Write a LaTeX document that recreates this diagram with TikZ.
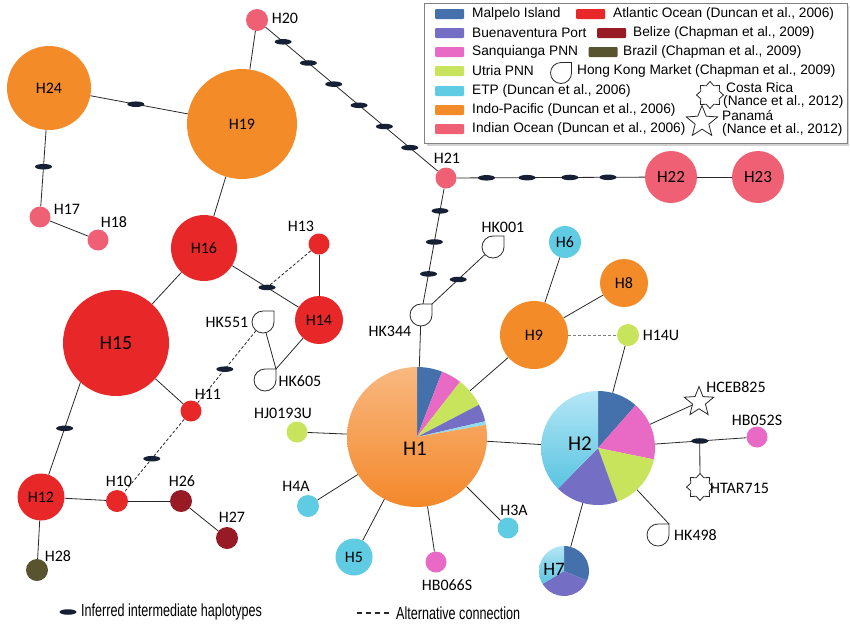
\documentclass[tikz,border=0pt]{standalone}
\usepackage{fontspec}
\usepackage{graphicx}
\setmainfont{Carlito}
\newfontfamily\legfont{Liberation Sans}
\usetikzlibrary{shapes.geometric,calc}
\definecolor{malpelo}{RGB}{68,112,172}
\definecolor{buena}{RGB}{116,110,196}
\definecolor{sanq}{RGB}{232,106,196}
\definecolor{utria}{RGB}{200,228,92}
\definecolor{etp}{RGB}{96,204,228}
\definecolor{etpL}{RGB}{180,230,246}
\definecolor{etpD}{RGB}{90,196,224}
\definecolor{indo}{RGB}{243,140,40}
\definecolor{indoL}{RGB}{248,184,128}
\definecolor{indoD}{RGB}{244,136,42}
\definecolor{indian}{RGB}{240,96,116}
\definecolor{atl}{RGB}{232,40,40}
\definecolor{belize}{RGB}{152,26,36}
\definecolor{brazil}{RGB}{88,84,48}
\definecolor{markc}{RGB}{22,32,52}
\definecolor{linec}{RGB}{40,40,40}
\definecolor{legbd}{RGB}{130,130,130}
\newcommand\hlab{\fontsize{16}{18}\selectfont}
\newcommand\hbig{\fontsize{21}{24}\selectfont}
\newcommand\lgf{\legfont\fontsize{13.7}{15}\selectfont}
\newcommand\pieslice[5]{\fill[#5] (#1.center) -- ++({-(#3)}:#2) arc[start angle={-(#3)}, end angle={-(#4)}, radius=#2] -- cycle;}
\newcommand\pieshade[6]{\shade[top color=#5, bottom color=#6] (#1.center) -- ++({-(#3)}:#2) arc[start angle={-(#3)}, end angle={-(#4)}, radius=#2] -- cycle;}
\newcommand\hkdrop[2]{\draw[hkline] ($(#1)+(#2,0)$) arc[start angle=0, end angle=270, radius=#2] -- ($(#1)+(#2,-#2)$) -- cycle;}
\begin{document}
\begin{tikzpicture}[x=1pt,y=-1pt,
  hap/.style={circle,inner sep=0pt,minimum size=#1},
  hk/.style={circle,inner sep=0pt,minimum size=22pt},
  hkline/.style={draw=linec,fill=white,line width=0.8pt},
  lbl/.style={font=\hlab,inner sep=0pt},
  edge/.style={draw=linec,line width=0.8pt},
  alt/.style={draw=linec,line width=0.8pt,dash pattern=on 3pt off 2pt},
  alt2/.style={draw=gray,line width=0.9pt,dash pattern=on 3pt off 2pt},
  imark/.style={ellipse,fill=markc,minimum width=17pt,minimum height=5.5pt,inner sep=0pt},
  sw/.style={minimum width=29pt,minimum height=10pt,inner sep=0pt,rounded corners=1pt},
  lt/.style={anchor=west,font=\lgf,inner sep=0pt}]
\useasboundingbox (0,0) rectangle (850,638);
% ---------- haplotype nodes ----------
\node[hap=22pt,fill=indian] (H20) at (257,20) {};
\node[hap=84pt,fill=indo,font=\hlab] (H24) at (49,88) {H24};
\node[hap=110pt,fill=indo,font=\hlab] (H19) at (242,124) {H19};
\node[hap=21pt,fill=indian] (H17) at (40,217) {};
\node[hap=21pt,fill=indian] (H18) at (98,240) {};
\node[hap=66pt,fill=atl,font=\hlab] (H16) at (204,248) {H16};
\node[hap=21pt,fill=atl] (H13) at (319,244) {};
\node[hap=48pt,fill=atl,font=\hlab] (H14) at (319,320) {H14};
\node[hap=106pt,fill=atl,font=\fontsize{20}{22}\selectfont] (H15) at (116,343) {H15};
\node[hap=21pt,fill=atl] (H11) at (191,411) {};
\node[hap=47pt,fill=atl,font=\hlab] (H12) at (41,497) {H12};
\node[hap=22pt,fill=atl] (H10) at (117,501) {};
\node[hap=22pt,fill=belize] (H26) at (181,501) {};
\node[hap=22pt,fill=belize] (H27) at (227,538) {};
\node[hap=22pt,fill=brazil] (H28) at (37,570) {};
\node[hap=21pt,fill=indian] (H21) at (446,178) {};
\node[hap=52pt,fill=indian,font=\fontsize{17}{19}\selectfont] (H22) at (671,177) {H22};
\node[hap=52pt,fill=indian,font=\fontsize{17}{19}\selectfont] (H23) at (758,177) {H23};
\node[hap=32pt,fill=etp,font=\hlab] (H6) at (565,242) {H6};
\node[hap=48pt,fill=indo,font=\hlab] (H8) at (624,283) {H8};
\node[hap=68pt,fill=indo,font=\hlab] (H9) at (534,335) {H9};
\node[hap=22pt,fill=utria] (H14U) at (628,335) {};
\node[hap=21pt,fill=utria] (HJ0193U) at (297,432) {};
\node[hap=22pt,fill=etp] (H4A) at (308,506) {};
\node[hap=37pt,fill=etp,font=\hlab] (H5) at (354,557) {H5};
\node[hap=21pt,fill=sanq] (HB066S) at (436,562) {};
\node[hap=21pt,fill=etp] (H3A) at (508,528) {};
\node[hap=21pt,fill=sanq] (HB052S) at (757,437) {};
\node[hap=140pt] (H1) at (417,437) {};
\node[hap=114pt] (H2) at (598,448) {};
\node[hap=50pt] (H7) at (564,571) {};
\node[hk] (HK551) at (263,322) {};
\node[hk] (HK605) at (265,380) {};
\node[hk] (HK001) at (493,247) {};
\node[hk] (HK344) at (421,315) {};
\node[hk] (HK498) at (658,535) {};
\node[star,star points=5,star point ratio=2.3,minimum size=31pt,inner sep=0pt,draw=linec,fill=white,line width=0.8pt] (HCEB825) at (699,402) {};
\node[star,star points=8,star point ratio=1.35,minimum size=27pt,inner sep=0pt,draw=linec,fill=white,line width=0.8pt] (HTAR715) at (700,487) {};
% ---------- pies ----------
\pieslice{H1}{70}{69}{90}{malpelo}
\pieslice{H1}{70}{52}{69}{sanq}
\pieslice{H1}{70}{27.5}{52}{utria}
\pieslice{H1}{70}{13}{27.5}{buena}
\pieslice{H1}{70}{10}{13}{etp!70!white}
\pieshade{H1}{70}{90}{370}{indoL}{indoD}
\pieslice{H2}{57}{48.6}{90}{malpelo}
\pieslice{H2}{57}{-11.5}{48.6}{sanq}
\pieslice{H2}{57}{-70}{-11.5}{utria}
\pieslice{H2}{57}{-134.5}{-70}{buena}
\pieshade{H2}{57}{90}{225.5}{etpL}{etpD}
\pieslice{H7}{25}{-22.7}{90}{malpelo}
\pieslice{H7}{25}{211}{337.3}{buena}
\pieshade{H7}{25}{90}{211}{etpL}{etpD}
\node[font=\hbig,inner sep=0pt] (lH1) at (415,449) {H1};
\node[font=\hbig,inner sep=0pt] (lH2) at (580,444) {H2};
\node[font=\fontsize{19}{21}\selectfont,inner sep=0pt] (lH7) at (554,569) {H7};
% ---------- mark positions ----------
\coordinate (H15b) at (H15.228);
\coordinate (a1) at ($(H24)!0.45!(H19)$);
\coordinate (a2) at ($(H24)!0.61!(H17)$);
\coordinate (b1) at ($(H20)!0.138!(H21)$);
\coordinate (b2) at ($(H20)!0.272!(H21)$);
\coordinate (b3) at ($(H20)!0.406!(H21)$);
\coordinate (b4) at ($(H20)!0.54!(H21)$);
\coordinate (b5) at ($(H20)!0.674!(H21)$);
\coordinate (b6) at ($(H20)!0.808!(H21)$);
\coordinate (c1) at ($(H21)!0.18!(H22)$);
\coordinate (c2) at ($(H21)!0.36!(H22)$);
\coordinate (c3) at ($(H21)!0.55!(H22)$);
\coordinate (c4) at ($(H21)!0.72!(H22)$);
\coordinate (d1) at ($(H21)!0.24!(HK344)$);
\coordinate (d2) at ($(H21)!0.467!(HK344)$);
\coordinate (d3) at ($(H21)!0.70!(HK344)$);
\coordinate (HK344c) at ($(HK344)+(11,-11)$);
\coordinate (HK605c) at ($(HK605)+(11,-11)$);
\coordinate (HK498c) at ($(HK498)+(11,-11)$);
\coordinate (e1) at ($(HK344c)!0.43!(HK001)$);
\coordinate (f1) at ($(H16)!0.548!(H14)$);
\coordinate (g1) at ($(HK551)!0.53!(H11)$);
\coordinate (g2) at ($(H11)!0.53!(H10)$);
\coordinate (h1) at ($(H15b)!0.40!(H12)$);
\coordinate (k1) at ($(H2)!0.64!(HB052S)$);
% ---------- connectors ----------
\draw[edge] (H20) -- (H19);
\draw[edge] (H20) -- (H21);
\draw[edge] (H24) -- (H19);
\draw[edge] (H24) -- (H17);
\draw[edge] (H17) -- (H18);
\draw[edge] (H19) -- (H16);
\draw[edge] (H16) -- (H15);
\draw[edge] (H15) -- (H11);
\draw[edge] (H16) -- (H14);
\draw[edge] (H13) -- (H14);
\draw[edge] (H14) -- (HK605c);
\draw[edge] (HK551) -- (HK605c);
\draw[edge] (H15b) -- (H12);
\draw[edge] (H12) -- (H10);
\draw[edge] (H10) -- (H26);
\draw[edge] (H26) -- (H27);
\draw[edge] (H12) -- (H28);
\draw[edge] (H21) -- (H22);
\draw[edge] (H22) -- (H23);
\draw[edge] (H21) -- (HK344);
\draw[edge] (HK344c) -- (HK001);
\draw[edge] (HK344) -- (H1);
\draw[edge] (H1) -- (HJ0193U);
\draw[edge] (H1) -- (H4A);
\draw[edge] (H1) -- (H5);
\draw[edge] (H1) -- (HB066S);
\draw[edge] (H1) -- (H3A);
\draw[edge] (H1) -- (H9);
\draw[edge] (H1) -- (H2);
\draw[edge] (H9) -- (H6);
\draw[edge] (H9) -- (H8);
\draw[edge] (H14U) -- (H2);
\draw[edge] (H2) -- (HCEB825);
\draw[edge] (H2) -- (HB052S);
\draw[edge] (k1) -- (HTAR715);
\draw[edge] (H2) -- (HK498c);
\draw[edge] (H2) -- (H7);
\draw[alt] (H13) -- (f1);
\draw[alt] (HK551) -- (H11);
\draw[alt] (H11) -- (H10);
\draw[alt2] (H9) -- (H14U);
% ---------- Hong Kong drops ----------
\hkdrop{HK551}{11}
\hkdrop{HK605}{11}
\hkdrop{HK001}{11}
\hkdrop{HK344}{11}
\hkdrop{HK498}{11}
% ---------- inferred intermediates ----------
\foreach \m in {a1,a2,b1,b2,b3,b4,b5,b6,c1,c2,c3,c4,d1,d2,d3,e1,f1,g1,g2,h1,k1}
  \node[imark] (n\m) at (\m) {};
% ---------- labels ----------
\node[lbl] (tH20) at (285,18) {H20};
\node[lbl] (tH17) at (67,209) {H17};
\node[lbl] (tH18) at (114,222) {H18};
\node[lbl] (tH13) at (301,226) {H13};
\node[lbl] (tHK551) at (227,322) {HK551};
\node[lbl] (tHK605) at (300,381) {HK605};
\node[lbl] (tH11) at (208,394) {H11};
\node[lbl] (tH10) at (119,481) {H10};
\node[lbl] (tH26) at (182,481) {H26};
\node[lbl] (tH27) at (232,517) {H27};
\node[lbl] (tH28) at (58,556) {H28};
\node[lbl] (tH21) at (447,158) {H21};
\node[lbl] (tHK001) at (503,227) {HK001};
\node[lbl] (tHK344) at (390,331) {HK344};
\node[lbl] (tH14U) at (661,335) {H14U};
\node[lbl] (tHJ) at (283,413) {HJ0193U};
\node[lbl] (tH4A) at (296,486) {H4A};
\node[lbl] (tH3A) at (514,510) {H3A};
\node[lbl] (tHB066S) at (447,585) {HB066S};
\node[lbl] (tHCEB) at (736,387) {HCEB825};
\node[lbl] (tHB052S) at (757,420) {HB052S};
\node[lbl,anchor=west] (tHTAR) at (710,488) {HTAR715};
\node[lbl,anchor=west] (tHK498) at (674,535) {HK498};
% ---------- legend ----------
\fill[black!18] (427,6) rectangle (849,146);
\draw[draw=legbd,fill=white,line width=1pt] (424,3) rectangle (847,143);
\node[sw,fill=malpelo] (s1) at (449.5,14) {};
\node[sw,fill=buena] (s2) at (449.5,33) {};
\node[sw,fill=sanq] (s3) at (449.5,52) {};
\node[sw,fill=utria] (s4) at (449.5,71) {};
\node[sw,fill=etp] (s5) at (449.5,91) {};
\node[sw,fill=indo] (s6) at (449.5,110) {};
\node[sw,fill=indian] (s7) at (449.5,129) {};
\node[lt] (t1) at (472,14) {Malpelo Island};
\node[lt] (t2) at (472,33) {Buenaventura Port};
\node[lt] (t3) at (472,52) {Sanquianga PNN};
\node[lt] (t4) at (472,71) {Utria PNN};
\node[lt] (t5) at (472,91) {ETP (Duncan et al., 2006)};
\node[lt] (t6) at (472,110) {Indo-Pacific (Duncan et al., 2006)};
\node[lt] (t7) at (472,129) {Indian Ocean (Duncan et al., 2006)};
\node[sw,fill=atl] (s8) at (590.5,14) {};
\node[sw,fill=belize] (s9) at (611.5,33) {};
\node[sw,fill=brazil] (s10) at (603,52) {};
\node[lt] (t8) at (613,14) {Atlantic Ocean (Duncan et al., 2006)};
\node[lt] (t9) at (633,33) {Belize (Chapman et al., 2009)};
\node[lt] (t10) at (623,52) {Brazil (Chapman et al., 2009)};
\node[hk,minimum size=21pt] (LHK) at (561,73) {};
\hkdrop{LHK}{10.5}
\node[lt] (t11) at (577,71) {Hong Kong Market (Chapman et al., 2009)};
\node[star,star points=8,star point ratio=1.35,minimum size=27pt,inner sep=0pt,draw=linec,fill=white,line width=0.8pt] (LCR) at (710,95) {};
\node[star,star points=5,star point ratio=2.3,minimum size=33pt,inner sep=0pt,draw=linec,fill=white,line width=0.8pt] (LPA) at (702,122) {};
\node[lt] (t12) at (726,88) {Costa Rica};
\node[lt] (t13) at (723,102) {(Nance et al., 2012)};
\node[lt] (t14) at (722,116) {Panam\'a};
\node[lt] (t15) at (722,130) {(Nance et al., 2012)};
% ---------- bottom key ----------
\node[imark] (km) at (68,612) {};
\node[anchor=west,inner sep=0pt,font=\legfont\fontsize{17.5}{19}\selectfont] (kt1) at (81,612) {\scalebox{0.72}[1]{Inferred intermediate haplotypes}};
\coordinate (kd1) at (357,613);
\coordinate (kd2) at (389,613);
\draw[draw=linec,line width=1.3pt,dash pattern=on 5pt off 4pt] (kd1) -- (kd2);
\node[anchor=west,inner sep=0pt,font=\legfont\fontsize{17.5}{19}\selectfont] (kt2) at (396,613) {\scalebox{0.72}[1]{Alternative connection}};
\end{tikzpicture}
\end{document}
